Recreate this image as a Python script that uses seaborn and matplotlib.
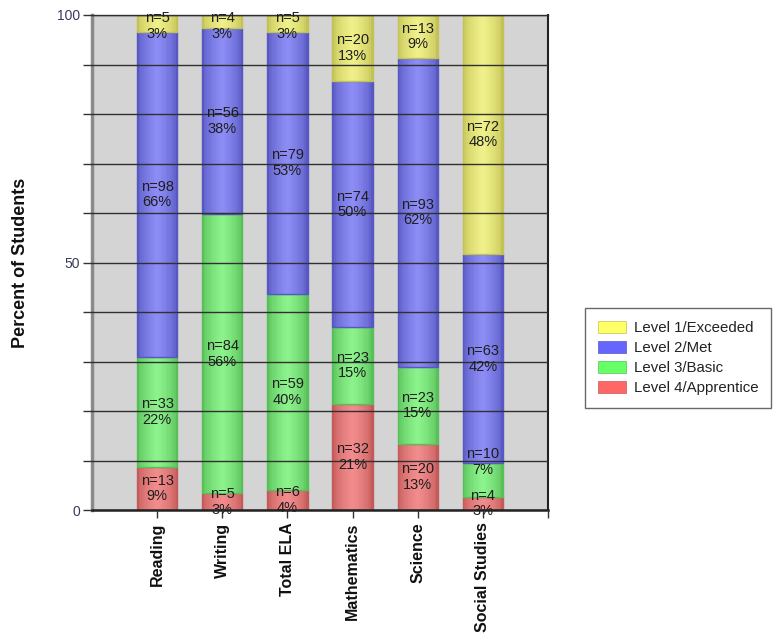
import numpy as np
import pandas as pd
import matplotlib
matplotlib.use("Agg")
import matplotlib.pyplot as plt
import seaborn as sns
from matplotlib.patches import Patch
from matplotlib.colors import to_rgb
from matplotlib.ticker import MultipleLocator, NullFormatter

# ---------------- data ----------------
subjects = ["Reading", "Writing", "Total ELA", "Mathematics", "Science", "Social Studies"]

# counts per performance level (bottom to top of each stack)
n_apprentice = [13, 5, 6, 32, 20, 4]
n_basic = [33, 84, 59, 23, 23, 10]
n_met = [98, 56, 79, 74, 93, 63]
n_exceeded = [5, 4, 5, 20, 13, 72]

# percentage labels as printed on the chart
pct_apprentice = [9, 3, 4, 21, 13, 3]
pct_basic = [22, 56, 40, 15, 15, 7]
pct_met = [66, 38, 53, 50, 62, 42]
pct_exceeded = [3, 3, 3, 13, 9, 48]

level_names = ["Level 4/Apprentice", "Level 3/Basic", "Level 2/Met", "Level 1/Exceeded"]
legend_colors = ["#ff6666", "#66ff66", "#6666ff", "#ffff66"]
bar_center_colors = ["#f28c8c", "#8cf28c", "#8c8cf4", "#f0f08a"]
bar_edge_colors = ["#c45a5a", "#58c058", "#5858c4", "#c2c256"]

counts = [n_apprentice, n_basic, n_met, n_exceeded]
pcts = [pct_apprentice, pct_basic, pct_met, pct_exceeded]

totals = np.sum(np.array(counts), axis=0)

# ---------------- style ----------------
plt.rcParams["font.family"] = ["Liberation Sans", "DejaVu Sans"]

fig = plt.figure(figsize=(7.78, 6.38), dpi=100)
ax = fig.add_axes([92 / 778, 1 - 510 / 638, (548 - 92) / 778, (510 - 15) / 638])
ax.set_facecolor("#d4d4d4")

BAR_W = 0.62
STEPS = 12
LABEL_SEP = 8.3      # minimal vertical distance between two stacked labels (data units)
LABEL_TOP = 97.8     # labels are kept inside the plot area

bottom = np.zeros(len(subjects))
prev_label = np.full(len(subjects), -100.0)
for li, (cnt, pc) in enumerate(zip(counts, pcts)):
    heights = np.array(cnt) / totals * 100.0
    df = pd.DataFrame({"subject": subjects, "value": heights})
    c0 = np.array(to_rgb(bar_edge_colors[li]))
    c1 = np.array(to_rgb(bar_center_colors[li]))
    # cylinder-like shading: stacked narrower bars getting lighter
    for k in range(STEPS):
        t = (k / (STEPS - 1)) ** 0.6
        col = tuple(c0 * (1 - t) + c1 * t)
        w = BAR_W * (1 - k / STEPS)
        sns.barplot(data=df, x="subject", y="value", order=subjects,
                    bottom=bottom, color=col, width=w, saturation=1,
                    errorbar=None, linewidth=0, ax=ax)
    # outline of each segment
    sns.barplot(data=df, x="subject", y="value", order=subjects,
                bottom=bottom, color=bar_edge_colors[li], width=BAR_W,
                saturation=1, errorbar=None, fill=False, linewidth=1.0, ax=ax)
    for i in range(len(subjects)):
        ypos = bottom[i] + heights[i] / 2
        ypos = max(ypos, prev_label[i] + LABEL_SEP)
        ypos = min(ypos, LABEL_TOP)
        prev_label[i] = ypos
        ax.text(i, ypos, f"n={cnt[i]}\n{pc[i]}%",
                ha="center", va="center", fontsize=10.5, color="#1e1e1e",
                linespacing=1.15, zorder=5)
    bottom = bottom + heights

# ---------------- axes ----------------
ax.set_xlim(-1, 6)
ax.set_ylim(0, 100)
ax.set_yticks([0, 50, 100])
ax.yaxis.set_minor_locator(MultipleLocator(10))
ax.yaxis.set_minor_formatter(NullFormatter())
ax.set_axisbelow(False)
ax.grid(which="both", axis="y", color="#303030", linewidth=1.0)
ax.grid(which="both", axis="x", visible=False)

ax.set_xticks(range(len(subjects)))
ax.set_xticklabels(subjects, rotation=90, fontsize=11.5, fontweight="bold", color="#111111")
ax.set_xticks([6], minor=True)
ax.tick_params(axis="x", which="both", length=6, width=1, color="#333333", pad=3)
ax.tick_params(axis="y", which="both", length=6.5, width=1, color="#333333", pad=2,
               labelsize=10, labelcolor="#3a3a5c")

ax.set_xlabel("")
ax.set_ylabel("Percent of Students", fontsize=13, fontweight="bold", color="#111111")
ax.yaxis.set_label_coords(-0.138, 0.5)

ax.spines["left"].set_color("#8a8a8a")
ax.spines["left"].set_linewidth(2.5)
ax.spines["bottom"].set_color("#222222")
ax.spines["bottom"].set_linewidth(1.8)
ax.spines["right"].set_color("#222222")
ax.spines["right"].set_linewidth(1.5)
ax.spines["top"].set_color("#303030")
ax.spines["top"].set_linewidth(1.0)

# ---------------- legend ----------------
handles = [Patch(facecolor=legend_colors[i], edgecolor=bar_edge_colors[i], linewidth=0.5,
                 label=level_names[i]) for i in [3, 2, 1, 0]]
leg = ax.legend(handles=handles, loc="upper left", bbox_to_anchor=(585 / 778, 1 - 308 / 638),
                bbox_transform=fig.transFigure, frameon=True, fancybox=False,
                edgecolor="#444444", fontsize=10.8, handlelength=1.9, handleheight=0.9,
                handletextpad=0.5, labelspacing=0.37, borderpad=0.85, borderaxespad=0)
leg.get_frame().set_linewidth(1.0)
for t in leg.get_texts():
    t.set_color("#222222")

fig.savefig("out.png", dpi=100, facecolor="white")
